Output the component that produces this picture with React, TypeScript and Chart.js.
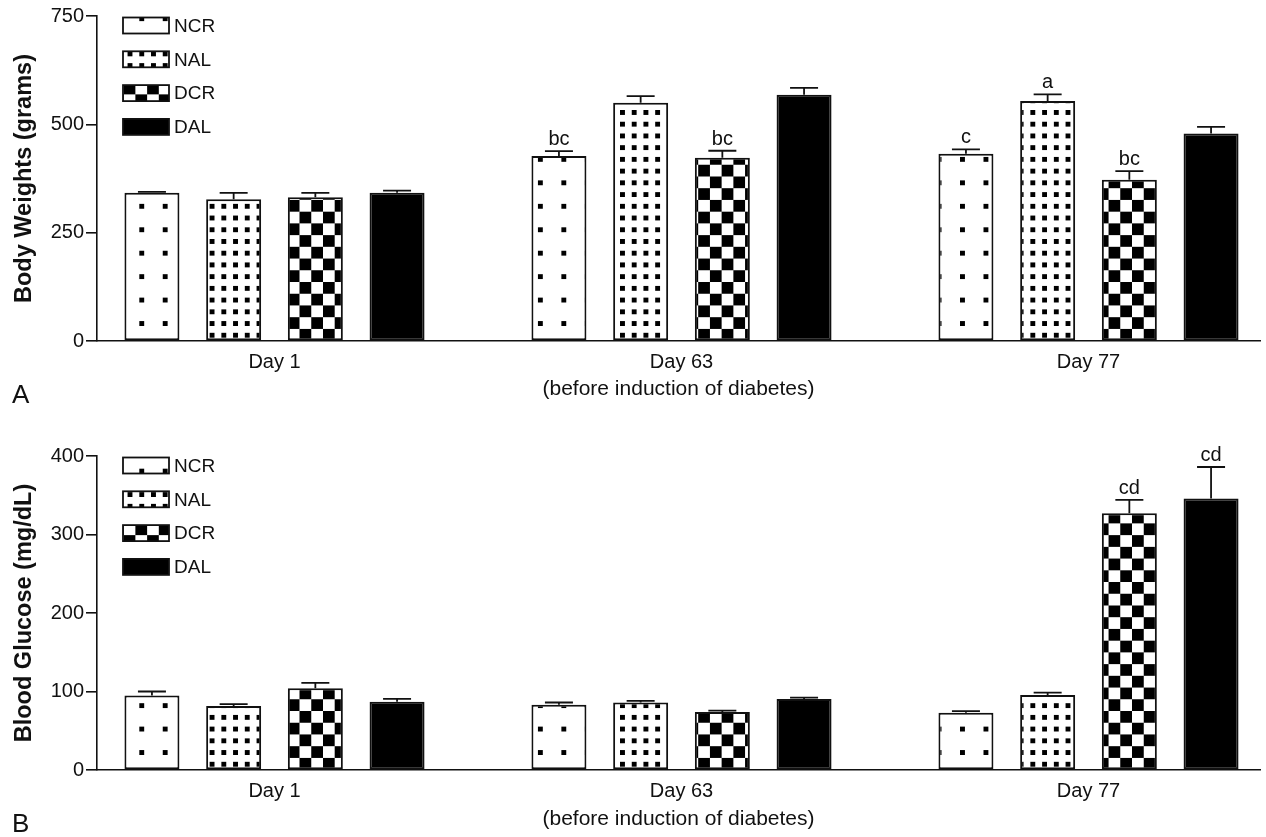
import React, { useEffect, useRef } from 'react';
import { Chart, registerables } from 'chart.js';

Chart.register(...registerables);

// ---------- data ----------
const dayLabels = ['Day 1', 'Day 63', 'Day 77'];
const dayPositions = [1, 2, 3];
const seriesNames = ['NCR', 'NAL', 'DCR', 'DAL'];
const xAxisTitle = '(before induction of diabetes)';

// Panel A: body weights (grams)
const weightNCR = [342, 427, 432];
const weightNAL = [327, 550, 554];
const weightDCR = [332, 423, 372];
const weightDAL = [342, 568, 479];
const weightErrNCR = [2, 11, 10];
const weightErrNAL = [15, 15, 15];
const weightErrDCR = [10, 16, 20];
const weightErrDAL = [5, 16, 15];
const weightSigNCR = ['', 'bc', 'c'];
const weightSigNAL = ['', '', 'a'];
const weightSigDCR = ['', 'bc', 'bc'];
const weightSigDAL = ['', '', ''];
const weightTicks = [0, 250, 500, 750];

// Panel B: blood glucose (mg/dL)
const glucoseNCR = [95, 83, 73];
const glucoseNAL = [81.5, 86, 95.5];
const glucoseDCR = [104, 74, 327];
const glucoseDAL = [87, 90.5, 346];
const glucoseErrNCR = [5, 3, 2];
const glucoseErrNAL = [2.5, 2, 3];
const glucoseErrDCR = [7, 1.7, 17];
const glucoseErrDAL = [3.5, 1.7, 40];
const glucoseSigNCR = ['', '', ''];
const glucoseSigNAL = ['', '', ''];
const glucoseSigDCR = ['', '', 'cd'];
const glucoseSigDAL = ['', '', 'cd'];
const glucoseTicks = [0, 100, 200, 300, 400];

// ---------- styling ----------
const FONT = "'Liberation Sans', Arial, Helvetica, sans-serif";
const INK = '#111';
const PITCH = 23.45;

Chart.defaults.font.family = FONT;
Chart.defaults.color = INK;

type Kind = 'sparse' | 'dense' | 'checker' | 'solid';
const kinds: Kind[] = ['sparse', 'dense', 'checker', 'solid'];

function makePattern(ctx: CanvasRenderingContext2D, kind: Kind, anchorX: number, anchorY: number): CanvasPattern | string {
  if (kind === 'solid') return '#000';
  const c = document.createElement('canvas');
  c.width = 24;
  c.height = 24;
  const g = c.getContext('2d') as CanvasRenderingContext2D;
  g.fillStyle = '#fff';
  g.fillRect(0, 0, 24, 24);
  g.fillStyle = '#000';
  if (kind === 'sparse') {
    g.fillRect(4, 4, 5, 5);
  } else if (kind === 'dense') {
    g.fillRect(4, 4, 5, 5);
    g.fillRect(16, 4, 5, 5);
    g.fillRect(4, 16, 5, 5);
    g.fillRect(16, 16, 5, 5);
  } else {
    g.fillRect(12, 0, 12, 12);
    g.fillRect(0, 12, 12, 12);
  }
  const p = ctx.createPattern(c, 'repeat') as CanvasPattern;
  const s = PITCH / 24;
  const tx = anchorX - 6.5 * s;
  const ty = anchorY - 6.5 * s;
  try {
    p.setTransform(new DOMMatrix([s, 0, 0, s, tx, ty]));
  } catch (e) {
    /* ignore */
  }
  return p;
}

interface PanelProps {
  values: number[][];
  errors: number[][];
  sigs: string[][];
  ticks: number[];
  yTitle: string;
  panelLabel: string;
  top: number;
  height: number;
  padTop: number;
  xAxisHeight: number;
  xTitlePad: number;
}

function Panel(props: PanelProps) {
  const ref = useRef<HTMLCanvasElement | null>(null);

  useEffect(() => {
    const canvas = ref.current;
    if (!canvas) return;
    const ctx = canvas.getContext('2d') as CanvasRenderingContext2D;
    const chartBottom = props.height - props.xAxisHeight;
    const patterns = kinds.map((k) => makePattern(ctx, k, 141.7, chartBottom - 17.5));

    const xMin = 1 - (274.5 - 97) / 407;
    const xMax = 3 + (1260 - 1088.5) / 407;

    const errorPlugin = {
      id: 'errorBars',
      afterDatasetsDraw(chart: any) {
        const c = chart.ctx as CanvasRenderingContext2D;
        const yScale = chart.scales.y;
        chart.data.datasets.forEach((ds: any, i: number) => {
          const meta = chart.getDatasetMeta(i);
          meta.data.forEach((bar: any, j: number) => {
            const v = props.values[i][j];
            const e = props.errors[i][j];
            const yv = yScale.getPixelForValue(v);
            const ye = yScale.getPixelForValue(v + e);
            c.save();
            c.strokeStyle = INK;
            c.lineWidth = 1.8;
            c.beginPath();
            c.moveTo(bar.x, yv);
            c.lineTo(bar.x, ye);
            c.moveTo(bar.x - 14, ye);
            c.lineTo(bar.x + 14, ye);
            c.stroke();
            const sig = props.sigs[i][j];
            if (sig) {
              c.fillStyle = INK;
              c.font = `20px ${FONT}`;
              c.textAlign = 'center';
              c.textBaseline = 'alphabetic';
              c.fillText(sig, bar.x, ye - 6);
            }
            c.restore();
          });
        });
      },
    };

    const legendPlugin = {
      id: 'patternLegend',
      afterDraw(chart: any) {
        const c = chart.ctx as CanvasRenderingContext2D;
        const { left, top } = chart.chartArea;
        seriesNames.forEach((name, i) => {
          const by = top + 1.5 + i * 33.8;
          c.save();
          c.fillStyle = patterns[i] as any;
          c.fillRect(left + 26, by, 46, 16);
          c.strokeStyle = INK;
          c.lineWidth = 1.8;
          c.strokeRect(left + 26, by, 46, 16);
          c.fillStyle = INK;
          c.font = `19px ${FONT}`;
          c.textAlign = 'left';
          c.textBaseline = 'middle';
          c.fillText(name, left + 77, by + 9);
          c.restore();
        });
        c.save();
        c.fillStyle = INK;
        c.font = `26px ${FONT}`;
        c.textAlign = 'left';
        c.textBaseline = 'alphabetic';
        c.fillText(props.panelLabel, 12, chartBottom + 62);
        c.restore();
      },
    };

    const chart = new Chart(canvas, {
      type: 'bar',
      data: {
        datasets: seriesNames.map((name, i) => ({
          label: name,
          data: dayPositions.map((x, j) => ({ x, y: props.values[i][j] })),
          backgroundColor: patterns[i] as any,
          borderColor: INK,
          borderWidth: 2,
          borderSkipped: false,
          categoryPercentage: 0.803,
          barPercentage: 0.673,
        })),
      },
      options: {
        animation: false,
        responsive: true,
        maintainAspectRatio: false,
        layout: { padding: { top: props.padTop, right: 6, left: 0, bottom: 0 } },
        plugins: {
          legend: { display: false },
          tooltip: { enabled: false },
        },
        scales: {
          x: {
            type: 'linear',
            offset: false,
            bounds: 'data',
            min: xMin,
            max: xMax,
            afterBuildTicks: (s: any) => {
              s.ticks = dayPositions.map((v) => ({ value: v }));
            },
            afterFit: (s: any) => {
              s.height = props.xAxisHeight;
            },
            grid: { display: false, drawTicks: false, offset: false },
            border: { display: true, color: INK, width: 1.6 },
            ticks: {
              padding: 9,
              maxRotation: 0,
              autoSkip: false,
              font: { size: 20, family: FONT },
              color: INK,
              callback: (v: any) => dayLabels[dayPositions.indexOf(Number(v))] ?? '',
            },
            title: {
              display: true,
              text: xAxisTitle,
              font: { size: 21, family: FONT },
              color: INK,
              padding: { top: 0, bottom: props.xTitlePad },
            },
          },
          y: {
            type: 'linear',
            min: props.ticks[0],
            max: props.ticks[props.ticks.length - 1],
            afterBuildTicks: (s: any) => {
              s.ticks = props.ticks.map((v) => ({ value: v }));
            },
            afterFit: (s: any) => {
              s.width = 97;
            },
            grid: {
              display: true,
              drawOnChartArea: false,
              drawTicks: true,
              tickLength: 11,
              color: INK,
              lineWidth: 1.6,
            },
            border: { display: true, color: INK, width: 1.6 },
            ticks: {
              padding: 2,
              font: { size: 20, family: FONT },
              color: INK,
            },
            title: {
              display: true,
              text: props.yTitle,
              font: { size: 23.5, weight: 'bold', family: FONT },
              color: INK,
              padding: { top: 10, bottom: 0 },
            },
          },
        },
      },
      plugins: [errorPlugin, legendPlugin],
    } as any);

    return () => chart.destroy();
  }, []);

  return (
    <div style={{ position: 'absolute', left: 0, top: props.top, width: 1266, height: props.height }}>
      <canvas ref={ref} />
    </div>
  );
}

export default function App() {
  return (
    <div style={{ position: 'absolute', left: 0, top: 0, width: 1266, height: 837, background: '#fff' }}>
      <Panel
        values={[weightNCR, weightNAL, weightDCR, weightDAL]}
        errors={[weightErrNCR, weightErrNAL, weightErrDCR, weightErrDAL]}
        sigs={[weightSigNCR, weightSigNAL, weightSigDCR, weightSigDAL]}
        ticks={weightTicks}
        yTitle="Body Weights (grams)"
        panelLabel="A"
        top={0}
        height={418}
        padTop={16}
        xAxisHeight={77}
        xTitlePad={16.4}
      />
      <Panel
        values={[glucoseNCR, glucoseNAL, glucoseDCR, glucoseDAL]}
        errors={[glucoseErrNCR, glucoseErrNAL, glucoseErrDCR, glucoseErrDAL]}
        sigs={[glucoseSigNCR, glucoseSigNAL, glucoseSigDCR, glucoseSigDAL]}
        ticks={glucoseTicks}
        yTitle="Blood Glucose (mg/dL)"
        panelLabel="B"
        top={418}
        height={419}
        padTop={38}
        xAxisHeight={67}
        xTitlePad={5.4}
      />
    </div>
  );
}
